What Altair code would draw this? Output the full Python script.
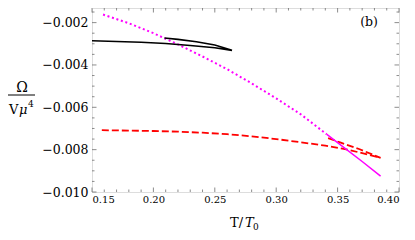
import altair as alt
import pandas as pd

# ---- data ----
T_BLACK = [0.150, 0.170, 0.190, 0.210, 0.230, 0.250, 0.264, 0.250, 0.235, 0.220, 0.209]
O_BLACK = [-0.00286, -0.00289, -0.00293, -0.00299, -0.00308, -0.00319, -0.00331,
           -0.00306, -0.00290, -0.00279, -0.00273]

T_MAG_DOT = [0.159, 0.180, 0.200, 0.220, 0.240, 0.260, 0.280, 0.300, 0.320, 0.341]
O_MAG_DOT = [-0.00162, -0.00203, -0.00250, -0.00303, -0.00360, -0.00420, -0.00487,
             -0.00558, -0.00633, -0.00727]

T_MAG_SOL = [0.341, 0.355, 0.370, 0.385]
O_MAG_SOL = [-0.00727, -0.00789, -0.00856, -0.00925]

T_RED = [0.158, 0.180, 0.200, 0.220, 0.240, 0.260, 0.280, 0.300, 0.320, 0.340, 0.360,
         0.385, 0.368, 0.352, 0.3416]
O_RED = [-0.00708, -0.00710, -0.00712, -0.00715, -0.00720, -0.00727, -0.00737, -0.00750,
         -0.00765, -0.00781, -0.00802, -0.00839, -0.00798, -0.00766, -0.00744]

X_MAJOR = [0.15, 0.20, 0.25, 0.30, 0.35, 0.40]
X_MINOR = [round(0.15 + 0.01 * i, 2) for i in range(26) if i % 5 != 0]
Y_MAJOR = [-0.010, -0.008, -0.006, -0.004, -0.002]
Y_MINOR = [round(-0.010 + 0.0005 * i, 4) for i in range(18) if i % 4 != 0]

X_DOMAIN = [0.15, 0.40]
Y_DOMAIN = [-0.010, -0.00131]

W, H = 307, 184
FONT = "DejaVu Serif"
FRAME = "#6e6e6e"

def frame(t, o):
    return pd.DataFrame({"T": t, "O": o, "i": list(range(len(t)))})

xs = alt.Scale(domain=X_DOMAIN, nice=False, zero=False)
ys = alt.Scale(domain=Y_DOMAIN, nice=False, zero=False)

x_axis = alt.Axis(values=X_MAJOR, format=".2f", ticks=False, tickSize=0, domain=False,
                  grid=False, labelFont=FONT, labelFontSize=10, labelPadding=2,
                  labelColor="black", title=None)
y_axis = alt.Axis(values=Y_MAJOR, format=".3f", ticks=False, tickSize=0, domain=False,
                  grid=False, labelFont=FONT, labelFontSize=12.5, labelPadding=4,
                  labelColor="black", title=None)

def line(df, color, width, dash=None):
    kw = dict(color=color, strokeWidth=width, clip=True)
    if dash:
        kw["strokeDash"] = dash
    return alt.Chart(df).mark_line(**kw).encode(
        x=alt.X("T:Q", scale=xs, axis=x_axis),
        y=alt.Y("O:Q", scale=ys, axis=y_axis),
        order="i:Q",
    )

layers = [
    line(frame(T_RED, O_RED), "#ff0000", 1.8, [7, 3]),
    line(frame(T_MAG_DOT, O_MAG_DOT), "#ff00ff", 2.0, [2, 2.7]),
    line(frame(T_MAG_SOL, O_MAG_SOL), "#ff00ff", 1.5),
    line(frame(T_BLACK, O_BLACK), "black", 1.6),
]

# inward frame ticks on all four sides
def xticks(vals, ln):
    df = pd.DataFrame({"T": vals})
    b = alt.Chart(df).mark_rule(color=FRAME, strokeWidth=0.8).encode(
        x=alt.X("T:Q", scale=xs), y=alt.value(H), y2=alt.value(H - ln))
    t = alt.Chart(df).mark_rule(color=FRAME, strokeWidth=0.8).encode(
        x=alt.X("T:Q", scale=xs), y=alt.value(0), y2=alt.value(ln))
    return [b, t]

def yticks(vals, ln):
    df = pd.DataFrame({"O": vals})
    l = alt.Chart(df).mark_rule(color=FRAME, strokeWidth=0.8).encode(
        y=alt.Y("O:Q", scale=ys), x=alt.value(0), x2=alt.value(ln))
    r = alt.Chart(df).mark_rule(color=FRAME, strokeWidth=0.8).encode(
        y=alt.Y("O:Q", scale=ys), x=alt.value(W), x2=alt.value(W - ln))
    return [l, r]

ticks = xticks(X_MAJOR, 4.5) + xticks(X_MINOR, 2.5) + yticks(Y_MAJOR, 4.5) + yticks(Y_MINOR, 2.5)

def txt(s, x, y, size, align="left", style="normal", baseline="alphabetic"):
    return alt.Chart(pd.DataFrame({"s": [s]})).mark_text(
        font=FONT, fontSize=size, fontStyle=style, align=align, baseline=baseline,
        color="black").encode(x=alt.value(x), y=alt.value(y), text="s:N")

texts = [
    txt("(b)", 277, 18, 12.5, align="center"),
    # x title  T/T0
    txt("T/", 138, 219, 13),
    txt("T", 153, 219, 13, style="italic"),
    txt("0", 161, 222, 9),
    # y title  Omega over V mu^4
    txt("Ω", -70, 84, 14, align="center"),
    txt("V", -83, 106, 13),
    txt("μ", -73, 106, 13, style="italic"),
    txt("4", -64, 99, 9),
]

frac = alt.Chart(pd.DataFrame({"a": [0]})).mark_rule(color="black", strokeWidth=1).encode(
    x=alt.value(-84), x2=alt.value(-57), y=alt.value(87))

chart = alt.layer(*layers, *ticks, *texts, frac).properties(
    width=W, height=H,
    autosize=alt.AutoSizeParams(type="none"),
    padding={"left": 84, "top": 0, "right": 8, "bottom": 40},
).configure_view(stroke=FRAME, strokeWidth=1).configure(background="white")

chart.save("out.html", embed_options={"renderer": "svg", "actions": False})
